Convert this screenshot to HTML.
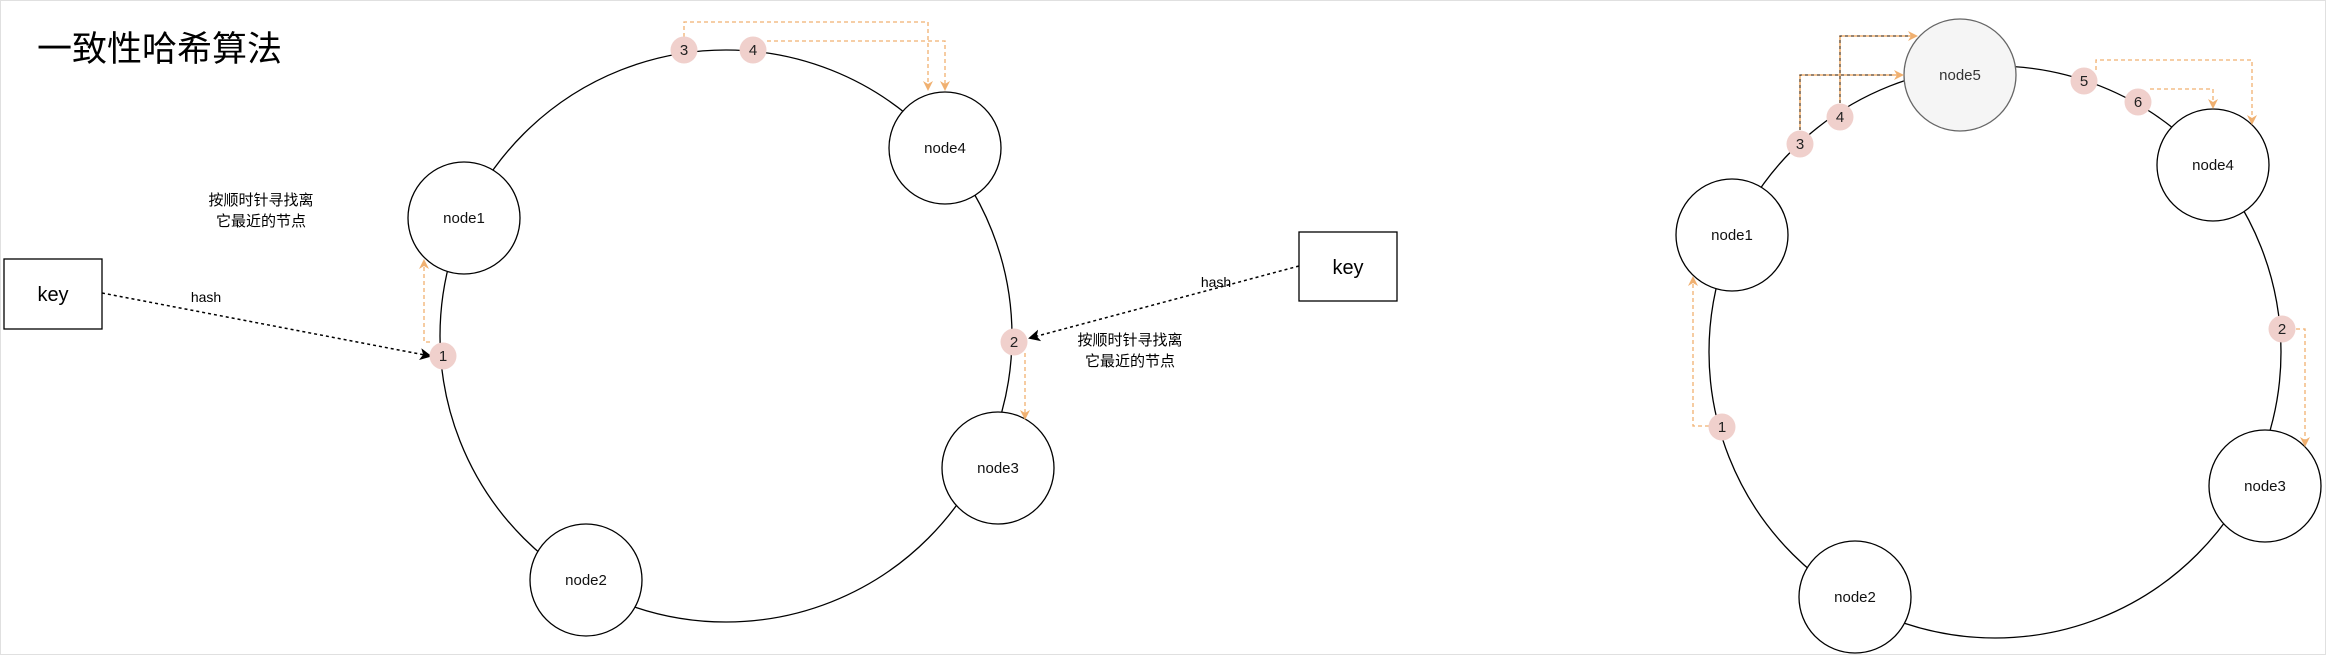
<!DOCTYPE html>
<html><head><meta charset="utf-8"><style>
html,body{margin:0;padding:0;background:#fff;}
svg{display:block;}
text{font-family:"Liberation Sans","Noto Sans CJK SC",sans-serif;}
</style></head><body>
<svg width="2326" height="655" viewBox="0 0 2326 655" xmlns="http://www.w3.org/2000/svg">
<defs>
<marker id="ao" markerWidth="10" markerHeight="10" refX="8" refY="5" orient="auto" markerUnits="userSpaceOnUse"><path d="M0,0 L10,5 L0,10 L3,5 Z" fill="#f0b070"/></marker>
<marker id="ab" markerWidth="12" markerHeight="12" refX="10" refY="6" orient="auto" markerUnits="userSpaceOnUse"><path d="M0,0 L12,6 L0,12 L3,6 Z" fill="#000"/></marker>
</defs>
<rect x="0.5" y="0.5" width="2325" height="654" fill="#fff" stroke="#e0e0e0"/>
<text x="37" y="61" font-size="35" fill="#000">一致性哈希算法</text>

<!-- LEFT -->
<circle cx="726" cy="336" r="286" fill="none" stroke="#000" stroke-width="1.3"/>
<g fill="#fff" stroke="#000" stroke-width="1.3">
<circle cx="464" cy="218" r="56"/>
<circle cx="945" cy="148" r="56"/>
<circle cx="998" cy="468" r="56"/>
<circle cx="586" cy="580" r="56"/>
</g>
<g font-size="15" text-anchor="middle" fill="#111">
<text x="464" y="223">node1</text>
<text x="945" y="153">node4</text>
<text x="998" y="473">node3</text>
<text x="586" y="585">node2</text>
</g>
<rect x="4" y="259" width="98" height="70" fill="#fff" stroke="#000" stroke-width="1.3"/>
<text x="53" y="301" font-size="20" text-anchor="middle">key</text>
<line x1="102" y1="293" x2="430" y2="356" stroke="#000" stroke-width="1.5" stroke-dasharray="3,3" marker-end="url(#ab)"/>
<text x="206" y="302" font-size="14" text-anchor="middle">hash</text>
<text x="261" y="205" font-size="15" text-anchor="middle">按顺时针寻找离</text>
<text x="261" y="226" font-size="15" text-anchor="middle">它最近的节点</text>

<g fill="none" stroke="#f0b070" stroke-width="1.3" stroke-dasharray="4,3">
<path d="M430,342 L424,342 L424,261" marker-end="url(#ao)"/>
<path d="M684,37 L684,22 L928,22 L928,89" marker-end="url(#ao)"/>
<path d="M767,41 L945,41 L945,89" marker-end="url(#ao)"/>
<path d="M1025,353 L1025,418" marker-end="url(#ao)"/>
</g>
<g fill="#f0d0cc">
<circle cx="443" cy="356" r="13.5"/>
<circle cx="1014" cy="342" r="13.5"/>
<circle cx="684" cy="50" r="13.5"/>
<circle cx="753" cy="50" r="13.5"/>
</g>
<g font-size="15" text-anchor="middle" fill="#222">
<text x="443" y="361">1</text>
<text x="1014" y="347">2</text>
<text x="684" y="55">3</text>
<text x="753" y="55">4</text>
</g>

<!-- middle key -->
<rect x="1299" y="232" width="98" height="69" fill="#fff" stroke="#000" stroke-width="1.3"/>
<text x="1348" y="274" font-size="20" text-anchor="middle">key</text>
<line x1="1299" y1="266" x2="1030" y2="338" stroke="#000" stroke-width="1.5" stroke-dasharray="3,3" marker-end="url(#ab)"/>
<text x="1216" y="287" font-size="14" text-anchor="middle">hash</text>
<text x="1130" y="345" font-size="15" text-anchor="middle">按顺时针寻找离</text>
<text x="1130" y="366" font-size="15" text-anchor="middle">它最近的节点</text>

<!-- RIGHT -->
<circle cx="1995" cy="352" r="286" fill="none" stroke="#000" stroke-width="1.3"/>
<circle cx="1960" cy="75" r="56" fill="#f5f5f5" stroke="#666" stroke-width="1.3"/>
<g fill="#fff" stroke="#000" stroke-width="1.3">
<circle cx="2213" cy="165" r="56"/>
<circle cx="1732" cy="235" r="56"/>
<circle cx="2265" cy="486" r="56"/>
<circle cx="1855" cy="597" r="56"/>
</g>
<g font-size="15" text-anchor="middle" fill="#111">
<text x="1960" y="80" fill="#333">node5</text>
<text x="2213" y="170">node4</text>
<text x="1732" y="240">node1</text>
<text x="2265" y="491">node3</text>
<text x="1855" y="602">node2</text>
</g>
<g fill="none" stroke="#f0b070" stroke-width="1.3" stroke-dasharray="4,3">
<path d="M1709,426 L1693,426 L1693,278" marker-end="url(#ao)"/>
<path d="M2296,329 L2305,329 L2305,445" marker-end="url(#ao)"/>
<path d="M2096,70 L2096,60 L2252,60 L2252,123" marker-end="url(#ao)"/>
<path d="M2150,89 L2213,89 L2213,107" marker-end="url(#ao)"/>
</g>
<g fill="none" stroke-width="1.6">
<path d="M1800,130 L1800,75 L1902,75" stroke="#f0b070" marker-end="url(#ao)"/>
<path d="M1840,103 L1840,36 L1916,36" stroke="#f0b070" marker-end="url(#ao)"/>
<path d="M1800,130 L1800,75 L1895,75" stroke="#333" stroke-dasharray="3,3" stroke-width="1"/>
<path d="M1840,103 L1840,36 L1908,36" stroke="#333" stroke-dasharray="3,3" stroke-width="1"/>
</g>
<g fill="#f0d0cc">
<circle cx="1722" cy="427" r="13.5"/>
<circle cx="2282" cy="329" r="13.5"/>
<circle cx="1800" cy="144" r="13.5"/>
<circle cx="1840" cy="117" r="13.5"/>
<circle cx="2084" cy="81" r="13.5"/>
<circle cx="2138" cy="102" r="13.5"/>
</g>
<g font-size="15" text-anchor="middle" fill="#222">
<text x="1722" y="432">1</text>
<text x="2282" y="334">2</text>
<text x="1800" y="149">3</text>
<text x="1840" y="122">4</text>
<text x="2084" y="86">5</text>
<text x="2138" y="107">6</text>
</g>
</svg>
</body></html>
